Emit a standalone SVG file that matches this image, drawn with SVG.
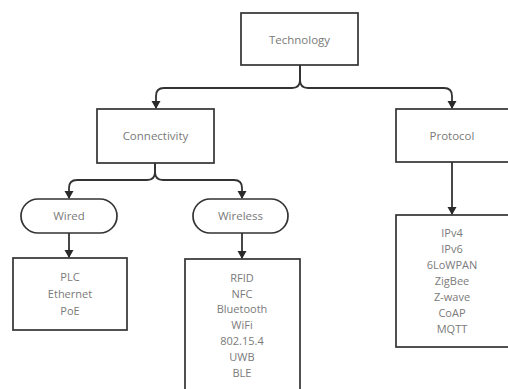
<svg xmlns="http://www.w3.org/2000/svg" width="508" height="389" viewBox="0 0 508 389">
<defs>
<style>
.box{fill:#fff;stroke:#333;stroke-width:1.7}
.t{font-family:"Open Sans","Liberation Sans",sans-serif;font-size:11.5px;fill:#7a7a7a;text-anchor:middle}
.l{font-family:"Open Sans","Liberation Sans",sans-serif;font-size:11px;fill:#7a7a7a;text-anchor:middle}
.c{fill:none;stroke:#333;stroke-width:1.8}
</style>
<marker id="ah" markerWidth="10" markerHeight="10" refX="7" refY="4.5" orient="auto" markerUnits="userSpaceOnUse">
<path d="M0,0 L8,4.5 L0,9 Z" fill="#2a2a2a"/>
</marker>
</defs>
<rect width="508" height="389" fill="#fff"/>
<g id="connectors">
<path class="c" d="M300,65 V80 Q300,88 292,88 H164 Q156,88 156,96 V108" marker-end="url(#ah)"/>
<path class="c" d="M300,65 V80 Q300,88 308,88 H444 Q452,88 452,96 V108" marker-end="url(#ah)"/>
<path class="c" d="M155,163 V172 Q155,180 147,180 H77 Q69,180 69,188 V198" marker-end="url(#ah)"/>
<path class="c" d="M155,163 V172 Q155,180 163,180 H234 Q242,180 242,188 V198" marker-end="url(#ah)"/>
<path class="c" d="M69,233 V257" marker-end="url(#ah)"/>
<path class="c" d="M242,233 V258" marker-end="url(#ah)"/>
<path class="c" d="M452,162 V214" marker-end="url(#ah)"/>
</g>
<g id="technology"><rect class="box" x="241" y="13" width="117" height="52"/><text class="t" x="299.5" y="44">Technology</text></g>
<g id="connectivity"><rect class="box" x="97" y="109" width="117" height="54"/><text class="t" x="155.5" y="140">Connectivity</text></g>
<g id="protocol"><rect class="box" x="396" y="109" width="115" height="53"/><text class="t" x="452" y="140">Protocol</text></g>
<g id="wired"><rect class="box" x="21" y="199" width="96" height="34" rx="17"/><text class="t" x="69" y="220">Wired</text></g>
<g id="wireless"><rect class="box" x="193" y="199" width="95" height="34" rx="17"/><text class="t" x="240.5" y="220">Wireless</text></g>
<g id="wired-list"><rect class="box" x="13" y="258" width="114" height="72"/>
<text class="l" x="70" y="281">PLC</text><text class="l" x="70" y="298">Ethernet</text><text class="l" x="70" y="315">PoE</text></g>
<g id="wireless-list"><rect class="box" x="185" y="259" width="115" height="140"/>
<text class="l" x="242" y="282">RFID</text><text class="l" x="242" y="298">NFC</text><text class="l" x="242" y="313">Bluetooth</text><text class="l" x="242" y="329">WiFi</text><text class="l" x="242" y="345">802.15.4</text><text class="l" x="242" y="361">UWB</text><text class="l" x="242" y="377">BLE</text></g>
<g id="protocol-list"><rect class="box" x="396" y="215" width="115" height="132"/>
<text class="l" x="452" y="237">IPv4</text><text class="l" x="452" y="253">IPv6</text><text class="l" x="452" y="269">6LoWPAN</text><text class="l" x="452" y="285">ZigBee</text><text class="l" x="452" y="301">Z-wave</text><text class="l" x="452" y="317">CoAP</text><text class="l" x="452" y="333">MQTT</text></g>
</svg>
